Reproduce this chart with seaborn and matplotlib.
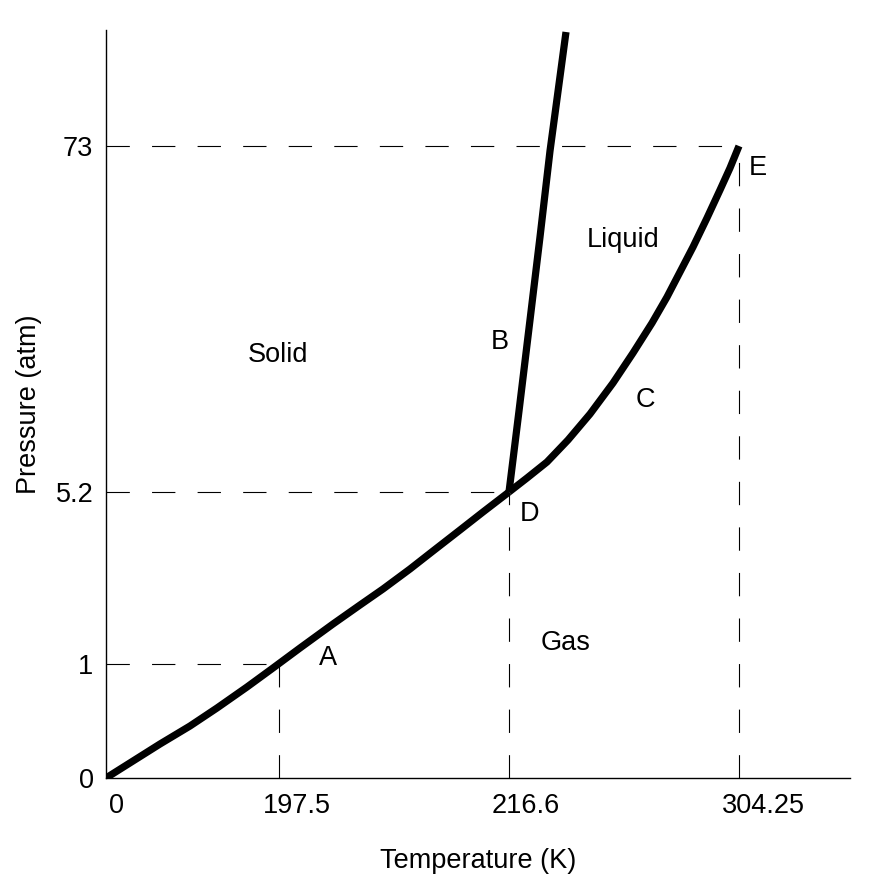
import matplotlib
matplotlib.use("Agg")
import matplotlib.pyplot as plt
import seaborn as sns
import pandas as pd

# schematic CO2 phase diagram, axes are not to scale so everything
# lives in "diagram units" and the ticks carry the real values
temp_labels = ["0", "197.5", "216.6", "304.25"]
temp_pos = [10, 191, 420, 657]
pres_labels = ["0", "1", "5.2", "73"]
pres_pos = [0, 114, 286, 632]

# sublimation curve (solid/gas), origin -> triple point D
sublimation_x = [0, 27, 54, 84, 111, 141, 167, 194, 227, 254, 277, 304, 327, 354, 377, 403]
sublimation_y = [0, 17, 34, 52, 70, 91, 110, 130, 154, 173, 189, 209, 227, 248, 266, 286]
# melting curve (solid/liquid), D -> top
melting_x = [403, 413, 424, 434, 444, 460]
melting_y = [286, 367, 458, 541, 627, 746]
# vaporization curve (liquid/gas), D -> critical point E
vaporization_x = [403, 421, 441, 462, 484, 507, 527, 546, 561, 574, 587, 601, 614, 624, 633]
vaporization_y = [286, 300, 316, 338, 364, 395, 425, 455, 481, 506, 531, 560, 588, 610, 632]

# reference points joined to the axes with dashed lines (1 atm, D, E)
guide_x = [173, 403, 633]
guide_y = [114, 286, 632]

region_text = ["Solid", "Liquid", "Gas", "A", "B", "C", "D", "E"]
region_x = [172, 517, 460, 222, 394, 539, 424, 652]
region_y = [423, 538, 135, 120, 436, 378, 264, 610]

sns.set_style("white")
plt.rcParams["font.family"] = ["Liberation Sans", "DejaVu Sans"]
plt.rcParams["text.color"] = "black"
plt.rcParams["axes.labelcolor"] = "black"
plt.rcParams["xtick.color"] = "black"
plt.rcParams["ytick.color"] = "black"

fig = plt.figure(figsize=(8.85, 8.86), dpi=100)
ax = fig.add_axes([106 / 885, 108 / 886, 744 / 885, 748 / 886])

curves = pd.concat([
    pd.DataFrame({"T": sublimation_x, "P": sublimation_y, "curve": "sublimation"}),
    pd.DataFrame({"T": melting_x, "P": melting_y, "curve": "melting"}),
    pd.DataFrame({"T": vaporization_x, "P": vaporization_y, "curve": "vaporization"}),
])
for name, part in curves.groupby("curve", sort=False):
    sns.lineplot(data=part, x="T", y="P", sort=False, estimator=None, color="black",
                 linewidth=5.2, ax=ax, solid_joinstyle="round", solid_capstyle="butt")

for gx, gy in zip(guide_x, guide_y):
    ax.plot([0, gx], [gy, gy], color="black", linewidth=0.8, dashes=(21, 20))
    ax.plot([gx, gx], [0, gy], color="black", linewidth=0.8, dashes=(21, 20))

for txt, tx, ty in zip(region_text, region_x, region_y):
    ax.text(tx, ty, txt, fontsize=19.5, ha="center", va="center", color="black")

ax.set_xlim(0, 744)
ax.set_ylim(0, 748)
ax.set_xticks(temp_pos)
ax.set_xticklabels(temp_labels)
ax.set_yticks(pres_pos)
ax.set_yticklabels(pres_labels)
ax.tick_params(axis="x", length=0, labelsize=19.5, pad=11)
ax.tick_params(axis="y", length=0, labelsize=19.5, pad=9)
ax.set_xlabel("Temperature (K)", fontsize=19.5, labelpad=20.5)
ax.set_ylabel("Pressure (atm)", fontsize=19.5, labelpad=10)

for side in ["top", "right"]:
    ax.spines[side].set_visible(False)
for side in ["left", "bottom"]:
    ax.spines[side].set_color("black")
    ax.spines[side].set_linewidth(1.0)

fig.savefig("out.png", dpi=100)
